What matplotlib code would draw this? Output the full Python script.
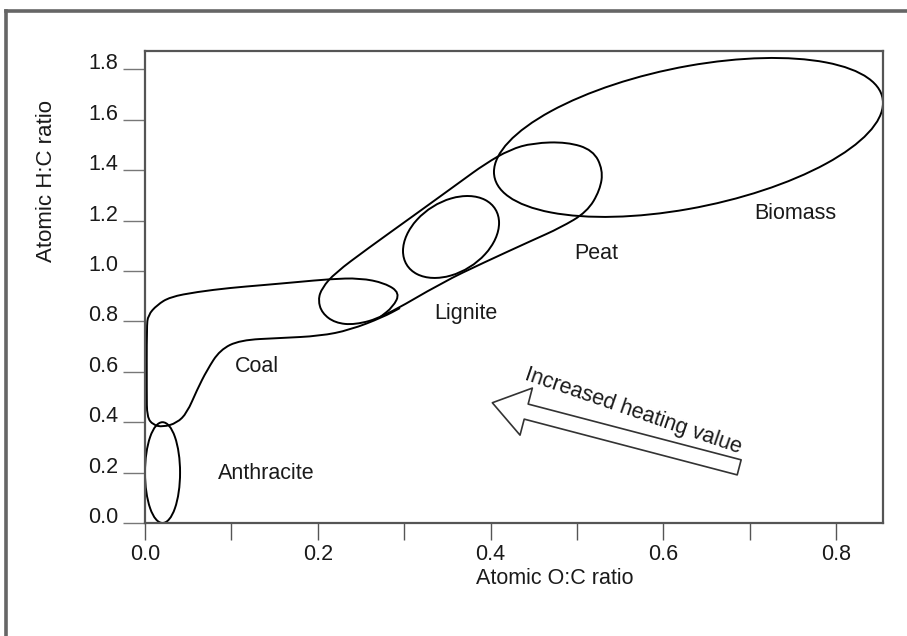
import numpy as np
import matplotlib
matplotlib.use("Agg")
import matplotlib.pyplot as plt
from matplotlib.patches import Circle, FancyArrowPatch, PathPatch
from matplotlib.path import Path
from matplotlib.transforms import Affine2D
from matplotlib.lines import Line2D

plt.rcParams['font.family'] = ['Liberation Sans', 'DejaVu Sans']

# fuel regions drawn as (sheared) ellipses, data units:
# centre x, centre y, half span in x, y-rise at the right end, vertical half-size
regions = ["Anthracite", "Lignite", "Biomass"]
cx = [0.0203, 0.3543, 0.6292]
cy = [0.200, 1.135, 1.530]
dx = [0.0203, 0.0556, 0.2252]
dy = [0.000, 0.0556, 0.1369]
kk = [0.200, 0.1528, 0.2841]

# peat region (egg shaped), closed outline
peat_x = [0.2003, 0.2049, 0.2200, 0.2570, 0.3103, 0.3647, 0.3936, 0.4226, 0.4492,
          0.4886, 0.5187, 0.5302, 0.5268, 0.5117, 0.4805, 0.4492, 0.3913, 0.3450,
          0.2755, 0.2431, 0.2200, 0.2049]
peat_y = [0.885, 0.933, 0.992, 1.087, 1.218, 1.353, 1.425, 1.482, 1.508,
          1.512, 1.480, 1.401, 1.321, 1.234, 1.171, 1.123, 1.032, 0.956,
          0.817, 0.786, 0.794, 0.833]

# coal band outline (O:C, H:C), open curve merging into the peat outline
coal_x = [0.2952, 0.2755, 0.2373, 0.2026, 0.1563, 0.1100, 0.0868, 0.0718, 0.0602,
          0.0486, 0.0370, 0.0208, 0.0093, 0.0023, 0.0020, 0.0020, 0.0035, 0.0139,
          0.0289, 0.0602, 0.0984, 0.1366, 0.1760, 0.2142, 0.2489, 0.2779, 0.2952,
          0.2871, 0.2721]
coal_y = [0.853, 0.817, 0.766, 0.742, 0.734, 0.726, 0.687, 0.607, 0.528,
          0.437, 0.397, 0.381, 0.389, 0.421, 0.516, 0.778, 0.825, 0.865,
          0.897, 0.917, 0.933, 0.944, 0.956, 0.968, 0.972, 0.952, 0.913,
          0.857, 0.817]

labels = ["Anthracite", "Coal", "Lignite", "Peat", "Biomass"]
label_x = [0.140, 0.130, 0.371, 0.522, 0.753]
label_y = [0.198, 0.623, 0.833, 1.071, 1.230]

arrow_tail = (0.691, 0.218)
arrow_head = (0.399, 0.480)
arrow_text = "Increased heating value"


def smooth_path(xs, ys, closed):
    # quadratic bezier pieces between midpoints of the read points
    p = np.column_stack([xs, ys])
    n = len(p)
    if closed:
        verts = [(p[-1] + p[0]) / 2]
        codes = [Path.MOVETO]
        for j in range(n):
            verts += [p[j], (p[j] + p[(j + 1) % n]) / 2]
            codes += [Path.CURVE3, Path.CURVE3]
    else:
        verts = [p[0], (p[0] + p[1]) / 2]
        codes = [Path.MOVETO, Path.LINETO]
        for j in range(1, n - 1):
            verts += [p[j], (p[j] + p[j + 1]) / 2]
            codes += [Path.CURVE3, Path.CURVE3]
        verts.append(p[-1])
        codes.append(Path.LINETO)
    return Path(verts, codes)


fig = plt.figure(figsize=(9.07, 6.36), dpi=100)
ax = fig.add_axes([145 / 907, 1 - 523 / 636, 738 / 907, 472 / 636])
ax.set_xlim(0, 0.8544)
ax.set_ylim(0, 1.873)

for i in range(len(regions)):
    tr = Affine2D().from_values(dx[i], dy[i], 0, kk[i], cx[i], cy[i]) + ax.transData
    ax.add_patch(Circle((0, 0), 1, transform=tr, fill=False, ec='black', lw=1.4))

ax.add_patch(PathPatch(smooth_path(peat_x, peat_y, True), fill=False, ec='black', lw=1.4))
ax.add_patch(PathPatch(smooth_path(coal_x, coal_y, False), fill=False, ec='black', lw=1.4))

for t, x, y in zip(labels, label_x, label_y):
    ax.text(x, y, t, fontsize=15.5, ha='center', va='center', color='#1a1a1a')

arr = FancyArrowPatch(arrow_tail, arrow_head,
                      arrowstyle="simple,head_width=2.5,head_length=1.8,tail_width=0.8",
                      mutation_scale=14, fc='white', ec='#333333', lw=1.2)
ax.add_patch(arr)
ax.text(0.565, 0.445, arrow_text, fontsize=15.5, rotation=-19,
        ha='center', va='center', color='#1a1a1a', rotation_mode='anchor')

for s in ax.spines.values():
    s.set_color('#555555')
    s.set_linewidth(1.6)

ax.set_yticks(np.arange(0, 1.81, 0.2))
ax.set_yticklabels([f"{v:.1f}" for v in np.arange(0, 1.81, 0.2)])
ax.set_xticks(np.arange(0, 0.81, 0.2))
ax.set_xticklabels([f"{v:.1f}" for v in np.arange(0, 0.81, 0.2)])
ax.set_xticks(np.arange(0.1, 0.81, 0.2), minor=True)
ax.tick_params(axis='y', direction='out', length=16, width=1.0, color='#777777',
               labelsize=15.5, pad=3, labelcolor='#1a1a1a')
ax.tick_params(axis='x', which='both', direction='out', length=12, width=1.0,
               color='#555555', labelsize=15.5, pad=3, labelcolor='#1a1a1a')
for lab in ax.get_yticklabels():
    lab.set_va('baseline')

fig.text(555 / 907, 1 - 578 / 636, "Atomic O:C ratio", fontsize=15.5,
         ha='center', va='center', color='#1a1a1a')
fig.text(47 / 907, 1 - 181 / 636, "Atomic H:C ratio", fontsize=16,
         ha='center', va='center', rotation=90, color='#1a1a1a')

# grey frame around the figure
fig.add_artist(Line2D([5.5 / 907, 5.5 / 907], [0, 1 - 10.5 / 636],
                      transform=fig.transFigure, color='#666666', lw=2.6))
fig.add_artist(Line2D([5.5 / 907, 1], [1 - 10.5 / 636, 1 - 10.5 / 636],
                      transform=fig.transFigure, color='#666666', lw=2.6))

fig.savefig("out.png", dpi=100)
